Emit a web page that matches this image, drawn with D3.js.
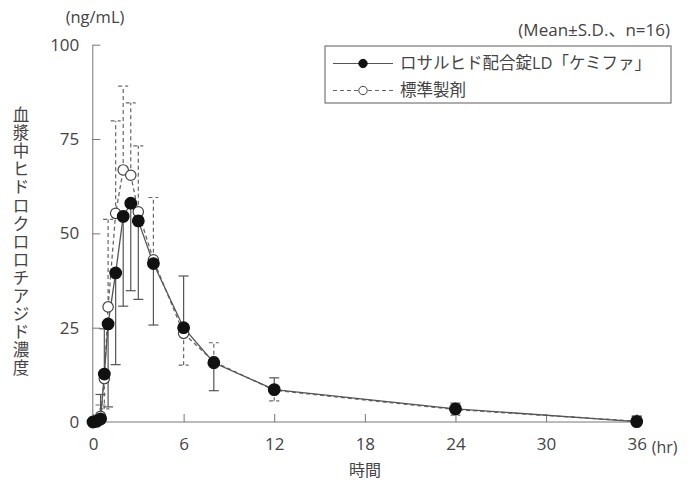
<!DOCTYPE html>
<html>
<head>
<meta charset="utf-8">
<script src="https://cdn.jsdelivr.net/npm/d3@7"></script>
<style>
  body { margin: 0; background: #fff; }
  text { font-family: "Open Sans", "Noto Sans CJK JP", sans-serif; fill: #444; }
</style>
</head>
<body>
<script>
// 採血時間 (hr)
const times = [0, 0.25, 0.5, 0.75, 1, 1.5, 2, 2.5, 3, 4, 6, 8, 12, 24, 36];
// ロサルヒド配合錠LD「ケミファ」
const testMean = [0, 0.2, 0.8, 12.7, 26, 39.5, 54.5, 58, 53.3, 42, 25, 15.7, 8.6, 3.5, 0.1];
// S.D. (符号 = 描く向き: + 上, - 下)
const testSD = [0, 0.5, 6.5, 12, -22, -24.3, -23.8, -23.2, -20.8, -16.3, 13.7, -7.4, 3.1, 1.5, 1.5];
// 標準製剤
const refMean = [0, 0.3, 1.5, 11.5, 30.5, 55.3, 66.8, 65.4, 55.7, 43, 23.5, 16, 8.4, 3.3, 0.2];
const refSD = [0, 0.8, 3, -8, 23.2, 24.5, 22.2, 19.2, 17.5, 16.5, -8.4, 5, -2.8, -1.5, 1.2];

const xTicks = [0, 6, 12, 18, 24, 30, 36];
const yTicks = [0, 25, 50, 75, 100];
const legendLabels = ["ロサルヒド配合錠LD「ケミファ」", "標準製剤"];
const yTitle = "血漿中ヒドロクロロチアジド濃度";

const width = 700, height = 486;
const svg = d3.select("body").append("svg")
  .attr("width", width)
  .attr("height", height);

const x = d3.scaleLinear().domain([0, 36]).range([93, 636.7]);
const y = d3.scaleLinear().domain([0, 100]).range([422, 44.7]);

const axisColor = "#777";

// x軸
const gx = svg.append("g")
  .attr("transform", `translate(0,${y(0)})`)
  .call(d3.axisBottom(x).tickValues(xTicks).tickSizeInner(-8).tickSizeOuter(0).tickPadding(16));
gx.select(".domain").attr("stroke", axisColor).attr("d", `M${x(0) - 1},0H${x(36)}`);
gx.selectAll(".tick line").attr("stroke", axisColor);
gx.selectAll(".tick text").style("font-size", "17px").attr("fill", "#444");

// y軸
const gy = svg.append("g")
  .attr("transform", `translate(${x(0) - 0.7},0)`)
  .call(d3.axisLeft(y).tickValues(yTicks).tickSizeInner(-8).tickSizeOuter(0).tickPadding(13));
gy.select(".domain").attr("stroke", axisColor);
gy.selectAll(".tick line").attr("stroke", axisColor);
gy.selectAll(".tick text").style("font-size", "17px").attr("fill", "#444");

svg.append("text").attr("x", x(36) + 15).attr("y", y(0) + 31)
  .style("font-size", "16px").text("(hr)");
svg.append("text").attr("x", 365).attr("y", 476).attr("text-anchor", "middle")
  .style("font-size", "16px").text("時間");
svg.append("text").attr("x", 95).attr("y", 23).attr("text-anchor", "middle")
  .style("font-size", "16.5px").text("(ng/mL)");
svg.append("text").attr("x", 670).attr("y", 36).attr("text-anchor", "end")
  .style("font-size", "17px").text("(Mean±S.D.、n=16)");

// 縦書きの軸タイトル (1文字ずつ配置)
svg.append("g").selectAll("text")
  .data(Array.from(yTitle))
  .join("text")
  .attr("x", 21)
  .attr("y", (d, i) => 121 + i * 18.1)
  .attr("text-anchor", "middle")
  .style("font-family", "'Noto Sans CJK JP', sans-serif")
  .style("font-size", "16.5px")
  .text(d => d);

const series = [
  { mean: refMean, sd: refSD, dash: "4,3", stroke: "#666", fill: "#fff", r: 5.2 },
  { mean: testMean, sd: testSD, dash: null, stroke: "#555", fill: "#111", r: 5.8 }
];

const capW = 5;
series.forEach(s => {
  const pts = times.map((t, i) => ({ t, m: s.mean[i], sd: s.sd[i] }));

  // エラーバー
  const eb = svg.append("g")
    .attr("stroke", s.stroke)
    .attr("stroke-width", 1.2)
    .attr("stroke-dasharray", s.dash);
  eb.selectAll("line.bar")
    .data(pts.filter(d => Math.abs(d.sd) > 0.3))
    .join("line")
    .attr("class", "bar")
    .attr("x1", d => x(d.t)).attr("x2", d => x(d.t))
    .attr("y1", d => y(d.m)).attr("y2", d => y(d.m + d.sd));
  eb.selectAll("line.cap")
    .data(pts.filter(d => Math.abs(d.sd) > 0.3))
    .join("line")
    .attr("class", "cap")
    .attr("stroke-dasharray", null)
    .attr("x1", d => x(d.t) - capW).attr("x2", d => x(d.t) + capW)
    .attr("y1", d => y(d.m + d.sd)).attr("y2", d => y(d.m + d.sd));

  // 折れ線
  svg.append("path")
    .datum(pts)
    .attr("fill", "none")
    .attr("stroke", s.stroke)
    .attr("stroke-width", 1.3)
    .attr("stroke-dasharray", s.dash)
    .attr("d", d3.line().x(d => x(d.t)).y(d => y(d.m)));
});

series.forEach(s => {
  svg.append("g").selectAll("circle")
    .data(times.map((t, i) => ({ t, m: s.mean[i] })))
    .join("circle")
    .attr("cx", d => x(d.t))
    .attr("cy", d => y(d.m))
    .attr("r", s.r)
    .attr("fill", s.fill)
    .attr("stroke", s.fill === "#fff" ? "#444" : "#111")
    .attr("stroke-width", 1.2);
});

// 凡例
const lg = svg.append("g");
lg.append("rect")
  .attr("x", 325).attr("y", 46).attr("width", 346).attr("height", 57)
  .attr("fill", "#fff").attr("stroke", "#777").attr("stroke-width", 1.2);
const legendItems = [
  { label: legendLabels[0], s: series[1], cy: 63.5 },
  { label: legendLabels[1], s: series[0], cy: 90.5 }
];
legendItems.forEach(it => {
  lg.append("line")
    .attr("x1", 333).attr("x2", 393).attr("y1", it.cy).attr("y2", it.cy)
    .attr("stroke", it.s.stroke).attr("stroke-width", 1.2)
    .attr("stroke-dasharray", it.s.dash);
  lg.append("circle")
    .attr("cx", 363).attr("cy", it.cy).attr("r", 4.2)
    .attr("fill", it.s.fill)
    .attr("stroke", it.s.fill === "#fff" ? "#444" : "#111");
  lg.append("text")
    .attr("x", 400).attr("y", it.cy + 5.5)
    .style("font-size", "16.5px")
    .text(it.label);
});
</script>
</body>
</html>
